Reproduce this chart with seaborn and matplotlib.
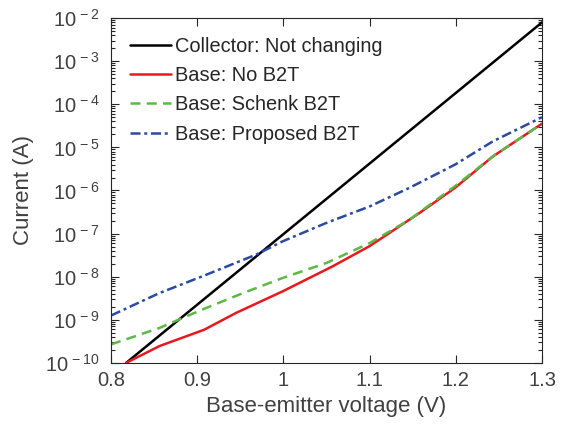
import numpy as np
import pandas as pd
import matplotlib
matplotlib.use("Agg")
import matplotlib.pyplot as plt
import seaborn as sns
from matplotlib.ticker import LogLocator, FixedLocator, NullFormatter

# ---- data ----
collector_v = [0.8174, 1.30]
collector_log = [-10.0, -2.10]

nob2t_v = [0.8174, 0.856, 0.908, 0.945, 0.999, 1.057, 1.100, 1.158, 1.199, 1.243, 1.300]
nob2t_log = [-10.0, -9.61, -9.23, -8.84, -8.34, -7.76, -7.29, -6.52, -5.94, -5.21, -4.45]

schenk_v = [0.800, 0.856, 0.906, 0.953, 0.999, 1.050, 1.100, 1.146, 1.199, 1.243, 1.300]
schenk_log = [-9.57, -9.19, -8.76, -8.38, -8.03, -7.68, -7.22, -6.68, -5.90, -5.21, -4.45]

proposed_v = [0.800, 0.856, 0.906, 0.968, 0.999, 1.050, 1.100, 1.146, 1.199, 1.243, 1.300]
proposed_log = [-8.90, -8.38, -7.99, -7.49, -7.18, -6.75, -6.37, -5.94, -5.40, -4.86, -4.30]

labels = ["Collector: Not changing", "Base: No B2T", "Base: Schenk B2T", "Base: Proposed B2T"]
xticks = [0.8, 0.9, 1.0, 1.1, 1.2, 1.3]
xticklabels = ["0.8", "0.9", "1", "1.1", "1.2", "1.3"]
yexps = list(range(-10, -1))

# ---- style ----
sns.set_style("ticks")
plt.rcParams["font.family"] = ["Liberation Sans", "DejaVu Sans"]
plt.rcParams["mathtext.fontset"] = "custom"
plt.rcParams["mathtext.rm"] = "Liberation Sans"
plt.rcParams["mathtext.it"] = "Liberation Sans"
plt.rcParams["mathtext.default"] = "regular"
txt = "#404040"

fig = plt.figure(figsize=(5.64, 4.30), dpi=100)
ax = fig.add_axes([0.197, 0.156, 0.764, 0.802])

frames = []
for lab, v, lg in zip(labels,
                      [collector_v, nob2t_v, schenk_v, proposed_v],
                      [collector_log, nob2t_log, schenk_log, proposed_log]):
    frames.append(pd.DataFrame({"V": v, "I": 10.0 ** np.array(lg), "series": lab}))
df = pd.concat(frames, ignore_index=True)

colors = {labels[0]: "#000000", labels[1]: "#e8191e",
          labels[2]: "#5db846", labels[3]: "#2c4a9e"}
dashes = {labels[0]: "", labels[1]: "", labels[2]: (4, 2.5), labels[3]: (4, 1.5, 1.2, 1.5)}

sns.lineplot(data=df, x="V", y="I", hue="series", style="series",
             palette=colors, dashes=dashes, hue_order=labels, style_order=labels,
             linewidth=1.8, sort=False, ax=ax)

ax.set_yscale("log")
ax.set_xlim(0.8, 1.3)
ax.set_ylim(1e-10, 1e-2)

ax.xaxis.set_major_locator(FixedLocator(xticks))
ax.set_xticklabels(xticklabels)
ax.yaxis.set_major_locator(FixedLocator([10.0 ** e for e in yexps]))
ax.set_yticklabels([r"$\mathregular{10^{\,%d}}$" % e for e in yexps])
ax.yaxis.set_minor_locator(LogLocator(base=10, subs=np.arange(2, 10), numticks=20))
ax.yaxis.set_minor_formatter(NullFormatter())

ax.tick_params(axis="both", which="both", direction="in", top=True, right=True,
               colors="#262626", labelcolor=txt, labelsize=14.5, width=0.8)
ax.tick_params(axis="both", which="major", length=6)
ax.tick_params(axis="y", which="minor", length=3)
ax.tick_params(axis="x", which="major", pad=6)
ax.tick_params(axis="y", which="major", pad=8)
for s in ax.spines.values():
    s.set_color("#262626")
    s.set_linewidth(0.8)

ax.set_xlabel("Base-emitter voltage (V)", fontsize=16, color=txt, labelpad=4)
ax.set_ylabel("Current (A)", fontsize=16, color=txt, labelpad=8)

leg = ax.legend(loc="upper left", frameon=False, fontsize=14.4, handlelength=2.05,
                handletextpad=0.2, labelspacing=0.52, borderaxespad=0.0,
                borderpad=0.0, bbox_to_anchor=(0.044, 0.946))
for t in leg.get_texts():
    t.set_color("#262626")

fig.savefig("out.png", dpi=100)
